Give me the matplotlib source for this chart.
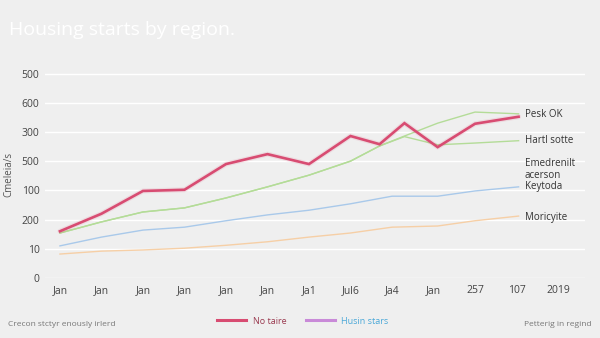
import numpy as np
import matplotlib
matplotlib.use("Agg")
import matplotlib.pyplot as plt
from matplotlib.lines import Line2D

plt.rcParams['font.family'] = ['Open Sans', 'DejaVu Sans']

# x positions are in tick-slot units (0 = first "Jan")
x_ticks = ['Jan', 'Jan', 'Jan', 'Jan', 'Jan', 'Jan', 'Ja1', 'Jul6', 'Ja4', 'Jan', '257', '107', '2019']
y_ticks = [0, 50, 100, 150, 200, 250, 300, 350]
y_tick_labels = ['0', '10', '200', '100', '500', '300', '600', '500']

red_x = [0, 1, 2, 3, 4, 5, 6, 7, 7.7, 8.3, 9.1, 10, 11.05]
red_y = [80, 110, 149, 151, 195, 212, 195, 243, 229, 265, 224, 264, 276]

green_x = [0, 1, 2, 3, 4, 5, 6, 7, 7.7, 8.3, 9.1, 10, 11.05]
green_a = [77, 96, 113, 120, 137, 156, 176, 200, 226, 243, 265, 284, 281]
green_b = [77, 96, 113, 120, 137, 156, 176, 200, 226, 242, 228, 231, 235]

blue_x = [0, 1, 2, 3, 4, 5, 6, 7, 8, 9.1, 10, 11.05]
blue_y = [55, 70, 82, 87, 98, 108, 116, 127, 140, 140, 149, 156]

orange_x = [0, 1, 2, 3, 4, 5, 6, 7, 8, 9.1, 10, 11.05]
orange_y = [41, 46, 48, 51, 56, 62, 70, 77, 87, 89, 98, 106]

end_labels = ['Pesk OK', 'Hartl sotte', 'Emedrenilt\nacerson', 'Keytoda', 'Moricyite']
end_label_y = [280, 235, 186, 156, 104]

bg = '#efefef'
red = '#d84c72'
green = '#b4dc98'
blue = '#a9c9ea'
orange = '#f6cfa6'
purple = '#c98ad8'

fig = plt.figure(figsize=(6, 3.38), dpi=100, facecolor=bg)
ax = fig.add_axes([0.075, 0.1775, 0.9, 0.6154], facecolor=bg)

ax.plot(orange_x, orange_y, color=orange, lw=1.0)
ax.plot(blue_x, blue_y, color=blue, lw=1.0)
ax.plot(green_x, green_b, color=green, lw=1.0)
ax.plot(green_x, green_a, color=green, lw=1.0)
ax.plot(red_x, red_y, color=red, lw=3.6, alpha=0.12, solid_capstyle='round')
ax.plot(red_x, red_y, color=red, lw=1.9, solid_joinstyle='miter')

for text, yv in zip(end_labels, end_label_y):
    ax.text(11.2, yv, text, fontsize=7, color='#333333', va='center', ha='left',
            linespacing=1.1)

ax.set_xlim(-0.36, 12.65)
ax.set_ylim(0, 356)
ax.set_xticks(range(len(x_ticks)))
ax.set_xticklabels(x_ticks)
ax.set_yticks(y_ticks)
ax.set_yticklabels(y_tick_labels)
ax.tick_params(axis='both', length=0, labelsize=7.5, colors='#444444')
ax.tick_params(axis='x', pad=5)
ax.tick_params(axis='y', pad=4)
ax.yaxis.grid(True, color='white', lw=1.0)
ax.set_axisbelow(True)
for s in ax.spines.values():
    s.set_visible(False)

ax.set_ylabel('Cmeleia/s', fontsize=7, color='#555555', labelpad=5)

fig.text(0.015, 0.91, 'Housing starts by region.', fontsize=14, color='white',
         ha='left', va='center')

handles = [Line2D([], [], color=red, lw=2.2), Line2D([], [], color=purple, lw=2.2)]
leg = fig.legend(handles, ['No taire', 'Husin stars'], loc='center', ncol=2,
                 bbox_to_anchor=(0.505, 0.05), frameon=False, fontsize=6.5,
                 handlelength=3.2, columnspacing=2.2, handletextpad=0.7)
leg.get_texts()[0].set_color('#9a3a50')
leg.get_texts()[1].set_color('#4aa8d8')

fig.text(0.013, 0.04, 'Crecon stctyr enously irlerd', fontsize=6, color='#777777',
         ha='left', va='center')
fig.text(0.985, 0.04, 'Petterig in regind', fontsize=6, color='#777777',
         ha='right', va='center')

fig.savefig('out.png', dpi=100, facecolor=bg)
